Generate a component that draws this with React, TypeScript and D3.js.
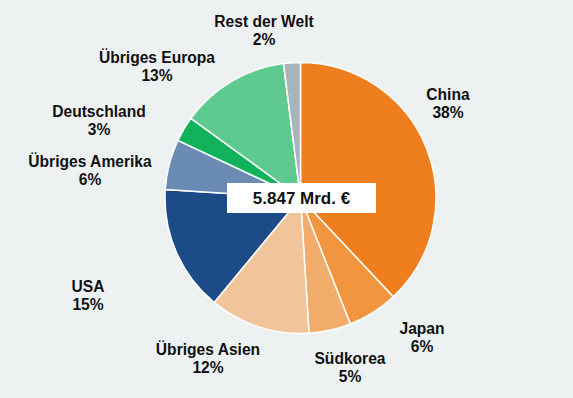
import React from "react";
import * as d3 from "d3";

const categories = ["China", "Japan", "Südkorea", "Übriges Asien", "USA", "Übriges Amerika", "Deutschland", "Übriges Europa", "Rest der Welt"];
const shares = [38, 6, 5, 12, 15, 6, 3, 13, 2];
const colors = ["#ef7f1e", "#f1953f", "#f2ac6c", "#f1c49b", "#1c4b87", "#6a8bb3", "#12b15b", "#5fca8f", "#a9b5bd"];
const labelPos: [number, number][] = [
  [448, 100], [422, 334], [350, 364], [208, 355], [88, 292], [90, 167], [99, 117], [157, 63], [264, 27],
];
const totalLabel = "5.847 Mrd. €";

export default function App() {
  const W = 573, H = 398;
  const cx = 300.5, cy = 198, r = 135.5;
  const pie = d3.pie<number>().sort(null).value((d) => d);
  const arcs = pie(shares);
  const arc = d3.arc<d3.PieArcDatum<number>>().innerRadius(0).outerRadius(r);
  return (
    <svg width={W} height={H} style={{ position: "absolute", left: 0, top: 0, background: "#eef1f2" }}
      fontFamily="'Liberation Sans', Arial, sans-serif">
      <rect x={0} y={0} width={W} height={H} fill="#eef1f2" />
      <g transform={`translate(${cx},${cy})`}>
        {arcs.map((a, i) => (
          <path key={i} d={arc(a) || ""} fill={colors[i]} stroke="#ffffff" strokeWidth={1.5} />
        ))}
      </g>
      <rect x={227} y={183} width={149} height={30} fill="#ffffff" />
      <text x={301.5} y={204} textAnchor="middle" fontSize={17} fontWeight="bold" fill="#111">{totalLabel}</text>
      {categories.map((c, i) => (
        <text key={c} textAnchor="middle" fontSize={15.6} fontWeight="bold" fill="#111">
          <tspan x={labelPos[i][0]} y={labelPos[i][1]}>{c}</tspan>
          <tspan x={labelPos[i][0]} y={labelPos[i][1] + 18}>{shares[i]}%</tspan>
        </text>
      ))}
    </svg>
  );
}
